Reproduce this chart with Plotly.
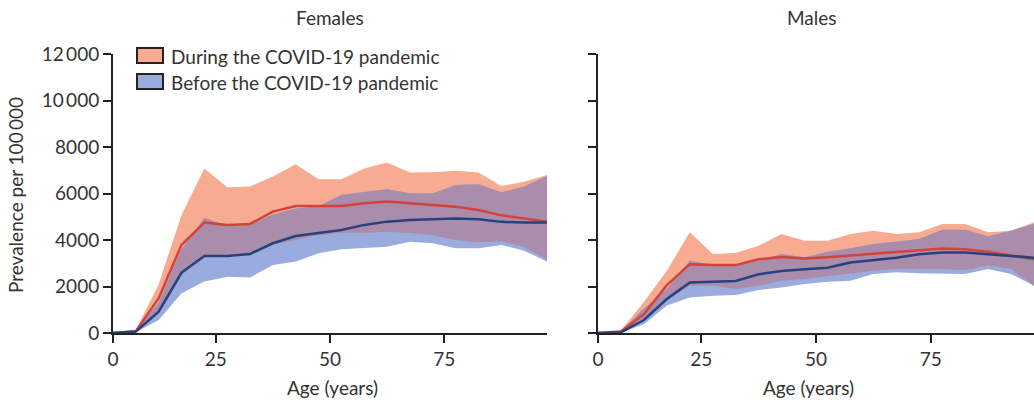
import plotly.graph_objects as go

# Age-group midpoints (5-year bands, 0-4 ... 95-99)
ages = [2.5, 7.5, 12.5, 17.5, 22.5, 27.5, 32.5, 37.5, 42.5, 47.5,
        52.5, 57.5, 62.5, 67.5, 72.5, 77.5, 82.5, 87.5, 92.5, 97.5]

# Females, during the COVID-19 pandemic
fem_during = [0, 80, 1500, 3790, 4750, 4650, 4690, 5220, 5460, 5450,
              5460, 5580, 5660, 5580, 5490, 5430, 5290, 5060, 4930, 4780]
fem_during_hi = [0, 130, 2100, 5080, 7080, 6270, 6300, 6730, 7260, 6610,
                 6610, 7080, 7330, 6900, 6910, 6980, 6900, 6320, 6510, 6800]
fem_during_lo = [0, 40, 900, 2500, 3250, 3300, 3350, 3800, 4000, 4200,
                 4300, 4300, 4350, 4300, 4200, 4000, 3900, 3950, 3700, 3150]

# Females, before the COVID-19 pandemic
fem_before = [0, 60, 920, 2600, 3310, 3310, 3400, 3860, 4170, 4290,
              4430, 4650, 4790, 4860, 4890, 4930, 4890, 4780, 4750, 4750]
fem_before_hi = [0, 100, 1300, 3600, 4950, 4600, 4650, 5100, 5350, 5450,
                 5950, 6080, 6180, 6010, 6000, 6370, 6400, 6050, 6300, 6750]
fem_before_lo = [0, 30, 560, 1710, 2210, 2420, 2390, 2930, 3070, 3430,
                 3600, 3640, 3710, 3930, 3860, 3640, 3640, 3790, 3540, 3070]

# Males, during the COVID-19 pandemic
male_during = [0, 60, 810, 2060, 2960, 2920, 2920, 3170, 3270, 3200,
               3260, 3340, 3430, 3500, 3560, 3630, 3600, 3490, 3340, 3170]
male_during_hi = [0, 120, 1330, 2680, 4330, 3400, 3440, 3750, 4260, 3970,
                  3970, 4260, 4400, 4260, 4330, 4690, 4690, 4330, 4400, 4760]
male_during_lo = [0, 30, 650, 1400, 2030, 2030, 1890, 2030, 2250, 2320,
                  2440, 2560, 2680, 2750, 2750, 2750, 2700, 2900, 2750, 2030]

# Males, before the COVID-19 pandemic
male_before = [0, 30, 560, 1460, 2170, 2200, 2240, 2530, 2670, 2740,
               2810, 3030, 3130, 3240, 3390, 3460, 3460, 3390, 3340, 3240]
male_before_hi = [0, 80, 1050, 1890, 3110, 2920, 2900, 3110, 3400, 3250,
                  3500, 3640, 3830, 3930, 4040, 4440, 4440, 4160, 4400, 4690]
male_before_lo = [0, 15, 380, 1180, 1530, 1600, 1630, 1850, 1960, 2110,
                  2200, 2250, 2540, 2610, 2570, 2540, 2540, 2750, 2540, 2030]

y_ticks = [0, 2000, 4000, 6000, 8000, 10000, 12000]
y_tick_text = ["0", "2000", "4000", "6000", "8000", "10\u2009000", "12\u2009000"]
x_ticks = [2.5, 25, 50, 75]
x_tick_text = ["0", "25", "50", "75"]

ORANGE = "#F7AC91"
BLUE = "#9AACDD"
OVERLAP = "#AA8DAB"
RED_LINE = "#D5423A"
BLUE_LINE = "#27417F"
AXIS = "#222222"
FONT = "Lato"

fig = go.Figure()


def band(lo, hi, color, xa, ya):
    fig.add_trace(go.Scatter(x=ages, y=lo, mode="lines", line=dict(width=0),
                             showlegend=False, hoverinfo="skip", xaxis=xa, yaxis=ya))
    fig.add_trace(go.Scatter(x=ages, y=hi, mode="lines", line=dict(width=0),
                             fill="tonexty", fillcolor=color, showlegend=False,
                             hoverinfo="skip", xaxis=xa, yaxis=ya))


def panel(during, d_lo, d_hi, before, b_lo, b_hi, xa, ya):
    band(d_lo, d_hi, ORANGE, xa, ya)
    band(b_lo, b_hi, BLUE, xa, ya)
    # where the two uncertainty intervals overlap
    ov_lo = [max(a, b) for a, b in zip(d_lo, b_lo)]
    ov_hi = [max(min(a, b), lo) for a, b, lo in zip(d_hi, b_hi, ov_lo)]
    band(ov_lo, ov_hi, OVERLAP, xa, ya)
    fig.add_trace(go.Scatter(x=ages, y=during, mode="lines",
                             line=dict(color=RED_LINE, width=2.5),
                             name="During the COVID-19 pandemic", showlegend=False,
                             xaxis=xa, yaxis=ya))
    fig.add_trace(go.Scatter(x=ages, y=before, mode="lines",
                             line=dict(color=BLUE_LINE, width=2.5),
                             name="Before the COVID-19 pandemic", showlegend=False,
                             xaxis=xa, yaxis=ya))


panel(fem_during, fem_during_lo, fem_during_hi,
      fem_before, fem_before_lo, fem_before_hi, "x", "y")
panel(male_during, male_during_lo, male_during_hi,
      male_before, male_before_lo, male_before_hi, "x2", "y2")

W, H = 1034, 405
ML, MR, MT, MB = 113, 0, 54, 72
PW, PH = W - ML - MR, H - MT - MB


def px(x):
    return (x - ML) / PW


def py(y):
    return (H - MB - y) / PH


axis_common = dict(showline=True, linecolor=AXIS, linewidth=2, ticks="outside",
                   ticklen=8, tickwidth=2, tickcolor=AXIS, showgrid=False,
                   zeroline=False, tickfont=dict(family=FONT, size=19, color="#333"))

fig.update_layout(
    width=W, height=H,
    margin=dict(l=ML, r=MR, t=MT, b=MB),
    paper_bgcolor="white", plot_bgcolor="white",
    font=dict(family=FONT, color="#333"),
    xaxis=dict(domain=[0, px(547)], range=[2.5, 97.5], tickvals=x_ticks,
               ticktext=x_tick_text, anchor="y", **axis_common),
    yaxis=dict(domain=[0, 1], range=[0, 12000], tickvals=y_ticks,
               ticktext=y_tick_text, anchor="x", **axis_common),
    xaxis2=dict(domain=[px(598), 1], range=[2.5, 97.5], tickvals=x_ticks,
                ticktext=x_tick_text, anchor="y2", **axis_common),
    yaxis2=dict(domain=[0, 1], range=[0, 12000], tickvals=y_ticks,
                showticklabels=False, anchor="x2", **axis_common),
)

ann = dict(xref="paper", yref="paper", showarrow=False,
           font=dict(family=FONT, size=19, color="#333"))
fig.add_annotation(text="Females", x=px(330), y=py(18), xanchor="center",
                   yanchor="middle", **ann)
fig.add_annotation(text="Males", x=px(812), y=py(18), xanchor="center",
                   yanchor="middle", **ann)
fig.add_annotation(text="Age (years)", x=px(332), y=py(387), xanchor="center",
                   yanchor="middle", **ann)
fig.add_annotation(text="Age (years)", x=px(808), y=py(387), xanchor="center",
                   yanchor="middle", **ann)
fig.add_annotation(text="Prevalence per 100\u2009000", x=px(15), y=py(195),
                   textangle=-90, xanchor="center", yanchor="middle", **ann)

# legend
legend_items = [("During the COVID-19 pandemic", ORANGE, 48, 63),
                ("Before the COVID-19 pandemic", BLUE, 74, 89)]
for label, color, top, bottom in legend_items:
    fig.add_shape(type="rect", xref="paper", yref="paper",
                  x0=px(137), x1=px(163), y0=py(bottom), y1=py(top),
                  fillcolor=color, line=dict(color="#2b2020", width=2))
    fig.add_annotation(text=label, x=px(169), y=py((top + bottom) / 2 + 1),
                       xanchor="left", yanchor="middle", **ann)

fig.write_html("out.html")
